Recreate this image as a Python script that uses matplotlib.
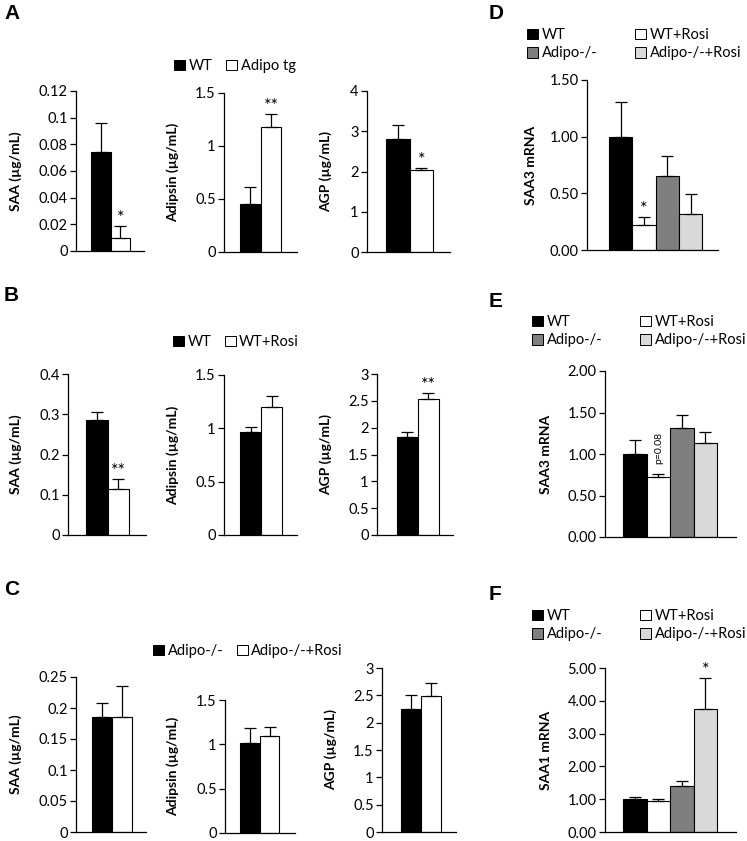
import matplotlib
matplotlib.use("Agg")
import matplotlib.pyplot as plt
from matplotlib.patches import Patch

W, H = 747, 841
plt.rcParams['font.family'] = ['Lato', 'DejaVu Sans']

# ---------------- data ----------------
two_groups_A = ["WT", "Adipo tg"]
two_groups_B = ["WT", "WT+Rosi"]
two_groups_C = ["Adipo-/-", "Adipo-/-+Rosi"]
four_groups = ["WT", "WT+Rosi", "Adipo-/-", "Adipo-/-+Rosi"]

A_saa = [0.074, 0.010]; A_saa_err = [0.022, 0.009]
A_adip = [0.45, 1.17]; A_adip_err = [0.16, 0.13]
A_agp = [2.80, 2.03]; A_agp_err = [0.35, 0.06]

B_saa = [0.285, 0.115]; B_saa_err = [0.020, 0.025]
B_adip = [0.97, 1.20]; B_adip_err = [0.04, 0.10]
B_agp = [1.82, 2.53]; B_agp_err = [0.10, 0.12]

C_saa = [0.185, 0.185]; C_saa_err = [0.023, 0.051]
C_adip = [1.01, 1.09]; C_adip_err = [0.17, 0.11]
C_agp = [2.25, 2.48]; C_agp_err = [0.25, 0.25]

D_saa3 = [1.00, 0.22, 0.65, 0.32]; D_saa3_err = [0.31, 0.07, 0.18, 0.17]
E_saa3 = [1.00, 0.72, 1.31, 1.13]; E_saa3_err = [0.17, 0.04, 0.16, 0.13]
F_saa1 = [1.00, 0.95, 1.40, 3.75]; F_saa1_err = [0.08, 0.07, 0.15, 0.93]

saa_ticks_A = [0, 0.02, 0.04, 0.06, 0.08, 0.1, 0.12]
adip_ticks = [0, 0.5, 1, 1.5]
agp_ticks_A = [0, 1, 2, 3, 4]
saa_ticks_B = [0, 0.1, 0.2, 0.3, 0.4]
agp_ticks_BC = [0, 0.5, 1, 1.5, 2, 2.5, 3]
saa_ticks_C = [0, 0.05, 0.1, 0.15, 0.2, 0.25]
D_ticks = [0.0, 0.5, 1.0, 1.5]
E_ticks = [0.0, 0.5, 1.0, 1.5, 2.0]
F_ticks = [0.0, 1.0, 2.0, 3.0, 4.0, 5.0]

# significance marks per bar index
A_saa_sig = {1: "*"}; A_adip_sig = {1: "**"}; A_agp_sig = {1: "*"}
B_saa_sig = {1: "**"}; B_agp_sig = {1: "**"}
D_sig = {1: "*"}; F_sig = {3: "*"}

two_colors = ["black", "white"]
four_colors = ["black", "white", "#7f7f7f", "#d9d9d9"]

fig = plt.figure(figsize=(W / 100, H / 100), dpi=100)


def make_axes(x0, x1, ytop, ybot, bar_left, bw, n, ymax):
    ax = fig.add_axes([x0 / W, 1 - ybot / H, (x1 - x0) / W, (ybot - ytop) / H])
    # data: bar i spans [i-0.5, i+0.5]; map pixel geometry to xlim
    left = -0.5 - (bar_left - x0) / bw
    right = left + (x1 - x0) / bw
    ax.set_xlim(left, right)
    ax.set_ylim(0, ymax)
    for s in ["top", "right"]:
        ax.spines[s].set_visible(False)
    ax.spines["left"].set_linewidth(0.9)
    ax.spines["bottom"].set_linewidth(0.9)
    ax.set_xticks([])
    ax.tick_params(axis="y", direction="out", length=4, width=0.9, pad=2, labelsize=10.5)
    return ax


def draw(ax, vals, errs, colors, ticks, fmt, ylabel, label_px, sig=None, star_off=0):
    x = list(range(len(vals)))
    ax.bar(x, vals, width=1.0, color=colors, edgecolor="black", linewidth=0.8, zorder=2)
    for i, (v, e) in enumerate(zip(vals, errs)):
        ax.errorbar(i, v, yerr=[[0], [e]], fmt="none", ecolor="black", elinewidth=0.9,
                    capsize=4, capthick=0.9, zorder=3)
    ax.set_yticks(ticks)
    ax.set_yticklabels([fmt(t) for t in ticks])
    ax.set_ylim(0, ticks[-1])
    ax.set_ylabel(ylabel, fontweight="bold", fontsize=10)
    bb = ax.get_position()
    ax.yaxis.set_label_coords((label_px / W - bb.x0) / bb.width, 0.5)
    if sig:
        for i, s in sig.items():
            ax.annotate(s, (i, vals[i] + errs[i]), xytext=(0, star_off), textcoords="offset points",
                        ha="center", va="bottom", fontsize=13)


g = lambda t: f"{t:g}"
f2 = lambda t: f"{t:.2f}"

# Panel A
ax = make_axes(76, 144, 91, 251, 91, 19.5, 2, 0.12)
draw(ax, A_saa, A_saa_err, two_colors, saa_ticks_A, g, "SAA (µg/mL)", 22, A_saa_sig)
ax = make_axes(224, 297, 92.5, 251.5, 240, 20.7, 2, 1.5)
draw(ax, A_adip, A_adip_err, two_colors, adip_ticks, g, "Adipsin (µg/mL)", 179, A_adip_sig)
ax = make_axes(367, 450, 91, 252, 386, 23.5, 2, 4)
draw(ax, A_agp, A_agp_err, two_colors, agp_ticks_A, g, "AGP (µg/mL)", 332, A_agp_sig)

# Panel B
ax = make_axes(68, 146, 374, 535, 86, 21.5, 2, 0.4)
draw(ax, B_saa, B_saa_err, two_colors, saa_ticks_B, g, "SAA (µg/mL)", 22, B_saa_sig)
ax = make_axes(224, 297, 375, 535, 240, 21, 2, 1.5)
draw(ax, B_adip, B_adip_err, two_colors, adip_ticks, g, "Adipsin (µg/mL)", 179)
ax = make_axes(377, 453, 374, 535, 397, 21, 2, 3)
draw(ax, B_agp, B_agp_err, two_colors, agp_ticks_BC, g, "AGP (µg/mL)", 332, B_agp_sig)

# Panel C
ax = make_axes(76, 146, 677, 832, 92, 20, 2, 0.25)
draw(ax, C_saa, C_saa_err, two_colors, saa_ticks_C, g, "SAA (µg/mL)", 22)
ax = make_axes(225, 295, 700, 833, 240, 19.7, 2, 1.5)
draw(ax, C_adip, C_adip_err, two_colors, adip_ticks, g, "Adipsin (µg/mL)", 179)
ax = make_axes(382, 456, 668, 832, 401, 20, 2, 3)
draw(ax, C_agp, C_agp_err, two_colors, agp_ticks_BC, g, "AGP (µg/mL)", 337)

# Panel D
ax = make_axes(587, 718, 80, 250, 609, 23.3, 4, 1.5)
draw(ax, D_saa3, D_saa3_err, four_colors, D_ticks, f2, "SAA3 mRNA", 537, D_sig)
# Panel E
ax = make_axes(605, 736, 371, 537, 623, 23.5, 4, 2.0)
draw(ax, E_saa3, E_saa3_err, four_colors, E_ticks, f2, "SAA3 mRNA", 552)
ax.annotate("p=0.08", (1, E_saa3[1] + E_saa3_err[1]), xytext=(0, 7), textcoords="offset points",
            ha="center", va="bottom", rotation=90, fontsize=7.5)
# Panel F
ax = make_axes(605, 736, 668, 832, 623, 23.5, 4, 5.0)
draw(ax, F_saa1, F_saa1_err, four_colors, F_ticks, f2, "SAA1 mRNA", 552, F_sig)

# Panel letters
for lab, (px, py) in {"A": (4, 4), "B": (4, 286), "C": (4, 580), "D": (489, 4), "E": (489, 292),
                      "F": (489, 585)}.items():
    fig.text(px / W, 1 - py / H, lab, fontsize=15, fontweight="bold", family="Liberation Sans",
             ha="left", va="top")


def legend2(groups, cx, cy):
    handles = [Patch(facecolor=c, edgecolor="black", linewidth=0.7) for c in two_colors]
    fig.legend(handles, groups, loc="center", bbox_to_anchor=(cx / W, 1 - cy / H), ncol=2,
               frameon=False, fontsize=10.5, handlelength=0.75, handleheight=0.75,
               handletextpad=0.25, columnspacing=0.9, borderpad=0, borderaxespad=0)


legend2(two_groups_A, 235, 66)
legend2(two_groups_B, 236, 342)
legend2(two_groups_C, 248, 651)


def legend4(lx, ty):
    order = [0, 2, 1, 3]
    handles = [Patch(facecolor=four_colors[i], edgecolor="black", linewidth=0.7) for i in order]
    labels = [four_groups[i] for i in order]
    fig.legend(handles, labels, loc="upper left", bbox_to_anchor=(lx / W, 1 - ty / H), ncol=2,
               frameon=False, fontsize=10.5, handlelength=0.75, handleheight=0.75,
               handletextpad=0.25, columnspacing=2.6, labelspacing=0.3, borderpad=0,
               borderaxespad=0)


legend4(527, 28)
legend4(532, 315)
legend4(532, 609)

fig.savefig("out.png", dpi=100)
